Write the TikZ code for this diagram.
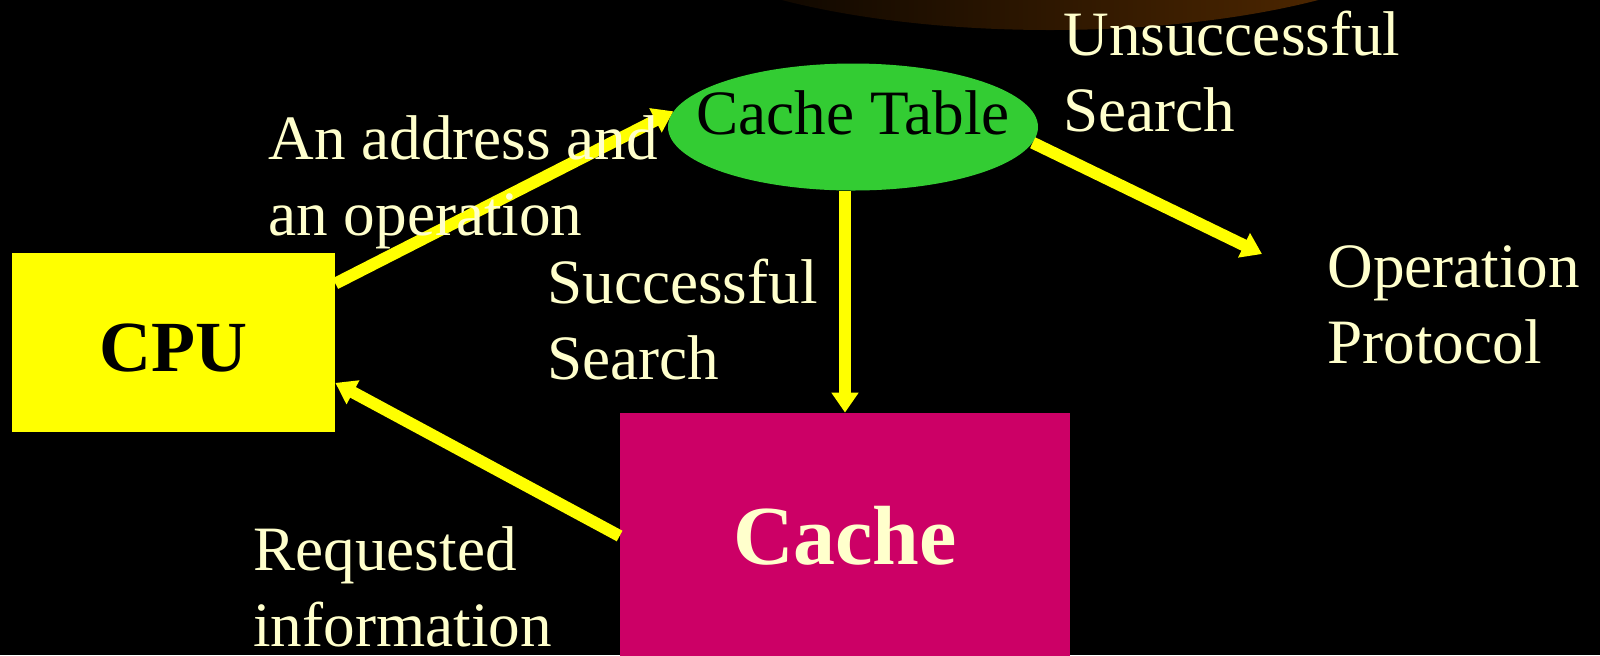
\documentclass[tikz,border=0pt]{standalone}
\usepackage{fontspec}
\setmainfont{Liberation Serif}
\usetikzlibrary{shapes.geometric,arrows.meta}
\definecolor{cream}{HTML}{FFFFCC}
\definecolor{cpuyellow}{HTML}{FFFF00}
\definecolor{tablegreen}{HTML}{33CC33}
\definecolor{cachepink}{HTML}{CC0066}
\definecolor{swoosh}{HTML}{5C2E00}

\begin{document}
\begin{tikzpicture}[x=0.5pt,y=-0.5pt,
    lbl/.style={text=cream,font=\fontsize{31.6}{38}\selectfont,align=left,anchor=base west,inner sep=0pt},
    flow/.style={draw=cpuyellow,line width=6pt,-{Triangle[length=10pt,width=13pt]}}]
    \fill[black] (0,0) rectangle (1600,655);
    \clip (0,0) rectangle (1600,655);
    \shade[left color=black,right color=swoosh] (1050,-100) ellipse (420 and 130);

    \node[ellipse,fill=tablegreen,minimum width=185pt,minimum height=63.5pt,inner sep=0pt,
          font=\fontsize{31.6}{38}\selectfont,text depth=14pt] (ct) at (853,127) {\makebox[0pt]{Cache Table}};
    \node[fill=cpuyellow,minimum width=161.5pt,minimum height=89.5pt,inner sep=0pt,
          font=\bfseries\fontsize{36}{40}\selectfont,text height=29.5pt] (cpu) at (173.5,342.5) {CPU};
    \node[fill=cachepink,minimum width=225pt,minimum height=123pt,inner sep=0pt,text=cream,
          font=\bfseries\fontsize{42}{46}\selectfont] (cache) at (845,536) {Cache};
    \coordinate (opin) at (1262,254);

    \draw[flow] (cpu.20) -- (ct.175);
    \draw[flow] (ct.south -| cache.north) -- (cache.north);
    \draw[flow] (cache.west) -- (cpu.-14);
    \draw[flow] (ct.-5) -- (opin);

    \node[lbl] (unsucc) at (1063,131) {Unsuccessful\\Search};
    \node[lbl] (addr) at (268,235) {An address and\\an operation};
    \node[lbl] (succ) at (547,379) {Successful\\Search};
    \node[lbl] (opprot) at (1327,363) {Operation\\Protocol};
    \node[lbl] (req) at (253,646) {Requested\\information};
\end{tikzpicture}
\end{document}
